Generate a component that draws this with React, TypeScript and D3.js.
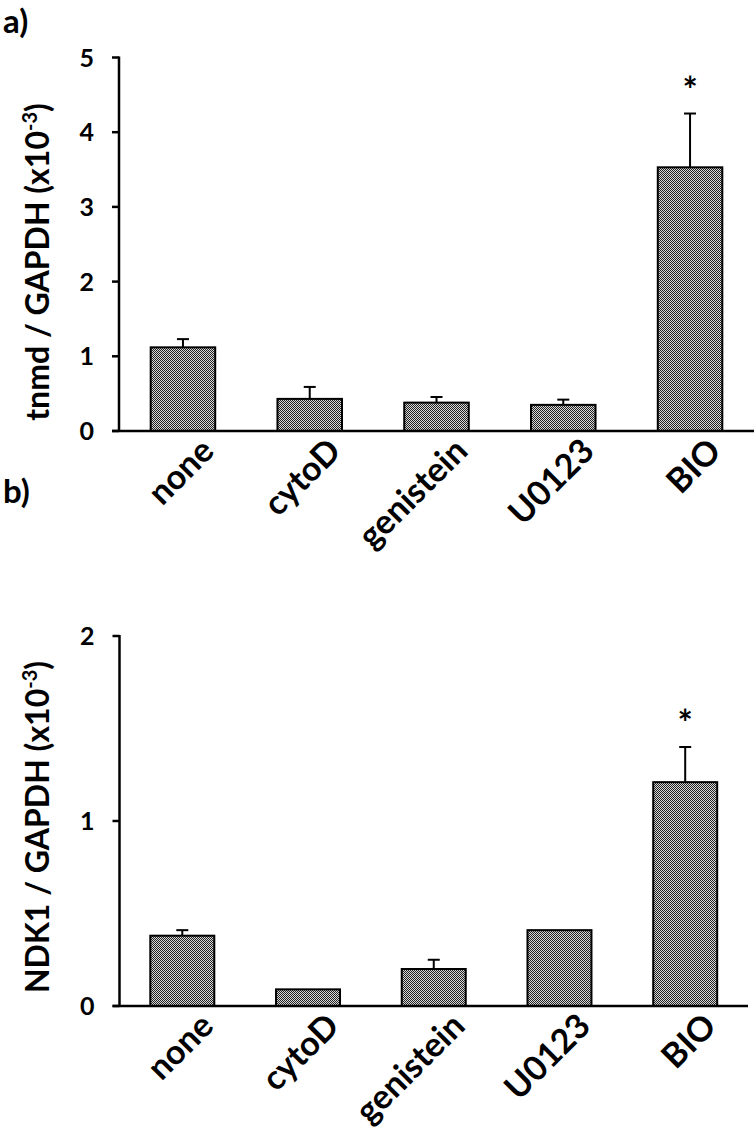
import React from "react";
import * as d3 from "d3";

const categories = ["none", "cytoD", "genistein", "U0123", "BIO"];
const tnmdValues = [1.12, 0.43, 0.38, 0.35, 3.53];
const tnmdErrTop = [1.23, 0.59, 0.455, 0.42, 4.25];
const tnmdSig = [false, false, false, false, true];
const tnmdTicks = [0, 1, 2, 3, 4, 5];
const ndk1Values = [0.38, 0.09, 0.2, 0.41, 1.21];
const ndk1ErrTop = [0.41, null, 0.25, null, 1.4];
const ndk1Sig = [false, false, false, false, true];
const ndk1Ticks = [0, 1, 2];

const FONT = "Lato, 'Open Sans', sans-serif";

type PanelProps = {
  letter: string;
  letterY: number;
  yLabel: string;
  values: number[];
  errTop: (number | null)[];
  sig: boolean[];
  ticks: number[];
  yMax: number;
  y0: number;
  y1: number;
  x0: number;
  x1: number;
  padOuter: number;
  labelCY: number;
};

function Panel(p: PanelProps) {
  const x = d3
    .scaleBand<string>()
    .domain(categories)
    .range([p.x0, p.x1])
    .paddingInner(0.491)
    .paddingOuter(p.padOuter);
  const y = d3.scaleLinear().domain([0, p.yMax]).range([p.y0, p.y1]);
  const bw = x.bandwidth();
  return (
    <g>
      <text x={3} y={p.letterY} fontFamily={FONT} fontWeight={700} fontSize={33} fill="#000">
        {p.letter}
      </text>
      {categories.map((c, i) => {
        const bx = x(c)!;
        const top = y(p.values[i]);
        const cx = bx + bw / 2;
        const e = p.errTop[i];
        return (
          <g key={c}>
            {e !== null && (
              <g stroke="#000" strokeWidth={2}>
                <line x1={cx} x2={cx} y1={top} y2={y(e)} />
                <line x1={cx - 6} x2={cx + 6} y1={y(e)} y2={y(e)} />
              </g>
            )}
            <rect x={bx} y={top} width={bw} height={p.y0 - top} fill="url(#checker)" stroke="#000" strokeWidth={2} />
            {p.sig[i] && e !== null && (
              <text x={cx} y={y(e) - 11} textAnchor="middle" fontFamily={FONT} fontWeight={700} fontSize={36} fill="#000">
                *
              </text>
            )}
            <text
              transform={`translate(${cx + 33},${p.y0 + 22}) rotate(-45)`}
              textAnchor="end"
              fontFamily={FONT}
              fontWeight={700}
              fontSize={34}
              fill="#000"
            >
              {c}
            </text>
          </g>
        );
      })}
      <line x1={p.x0} x2={p.x0} y1={y(p.yMax) - 1} y2={p.y0 + 1} stroke="#000" strokeWidth={2.5} />
      {p.ticks.map((t) => (
        <g key={t}>
          <line x1={p.x0 - 7} x2={p.x0} y1={y(t)} y2={y(t)} stroke="#000" strokeWidth={2.5} />
          <text x={p.x0 - 25} y={y(t)} dy="0.36em" textAnchor="end" fontFamily={FONT} fontWeight={700} fontSize={25} fill="#000">
            {t}
          </text>
        </g>
      ))}
      <line x1={p.x0 - 7} x2={p.x1} y1={p.y0} y2={p.y0} stroke="#000" strokeWidth={2.5} />
      <text
        transform={`translate(49,${p.labelCY}) rotate(-90)`}
        textAnchor="middle"
        fontFamily={FONT}
        fontWeight={700}
        fontSize={32}
        fill="#000"
      >
        {p.yLabel} (x10
        <tspan dy={-12} fontSize={20}>-3</tspan>
        <tspan dy={12}>)</tspan>
      </text>
    </g>
  );
}

export default function App() {
  return (
    <svg width={755} height={1129} style={{ position: "absolute", left: 0, top: 0, background: "#fff" }}>
      <defs>
        <pattern id="checker" patternUnits="userSpaceOnUse" width={2} height={2}>
          <rect width={2} height={2} fill="#d8d8d8" />
          <rect x={0} y={0} width={1} height={1} fill="#222" />
          <rect x={1} y={1} width={1} height={1} fill="#222" />
        </pattern>
      </defs>
      <rect width={755} height={1129} fill="#fff" />
      <Panel
        letter="a)"
        letterY={33}
        yLabel="tnmd / GAPDH"
        values={tnmdValues}
        errTop={tnmdErrTop}
        sig={tnmdSig}
        ticks={tnmdTicks}
        yMax={5}
        y0={431}
        y1={57.5}
        x0={119}
        x1={754}
        padOuter={0.25}
        labelCY={262}
      />
      <Panel
        letter="b)"
        letterY={503}
        yLabel="NDK1 / GAPDH"
        values={ndk1Values}
        errTop={ndk1ErrTop}
        sig={ndk1Sig}
        ticks={ndk1Ticks}
        yMax={2}
        y0={1006}
        y1={636}
        x0={119.5}
        x1={748}
        padOuter={0.245}
        labelCY={827}
      />
    </svg>
  );
}
